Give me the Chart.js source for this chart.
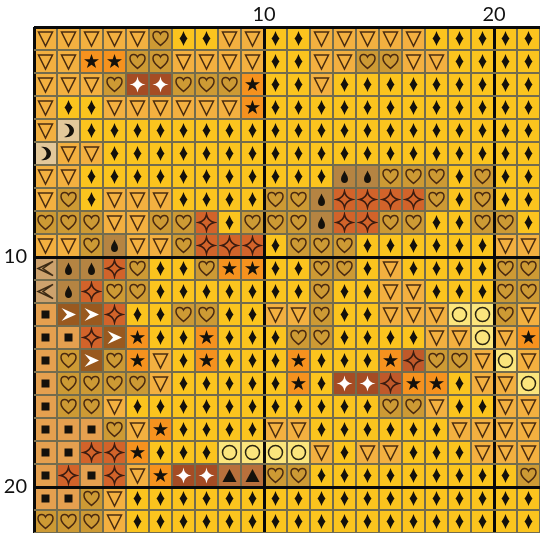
<!DOCTYPE html>
<html>
<head>
<meta charset="utf-8">
<style>
  html, body { margin: 0; padding: 0; background: #fff; }
  #wrap { width: 540px; height: 533px; }
  canvas { display: block; }
</style>
<script src="https://cdn.jsdelivr.net/npm/chart.js@4/dist/chart.umd.js"></script>
</head>
<body>
<div id="wrap"><canvas id="patternChart" width="540" height="533"></canvas></div>
<script>
// one letter per cell, top row first, split every 10 columns
const rows = [
  "vvvvvhddvv ddvvvvvddd dd",
  "vvsshhvvvv ddvvhhvvdd dd",
  "vvvhwwhhhs ddvddddddd dd",
  "vddvvvvvvs dddddddddd dd",
  "vmdddddddd dddddddddd dd",
  "mvvddddddd dddddddddd dd",
  "vvdddddddd dddoohhhdh dd",
  "vhdvvvdddd hhonnnnhdh dd",
  "hhhvvhhndh hhonnhhddh hd",
  "vvhovvhnnn dhhhdddddd vv",
  "loonhddhss ddhhdvdddd hh",
  "lonhhddddd ddhddvvddd hh",
  "qaanddhhdd vvhddvvvcc hv",
  "qqnasddsdd dhhddddvvc vs",
  "qhahsvdsdd dsdddsrhhv cv",
  "qhhhhvdddd dsdwwrssdv vc",
  "qhhvdddddd dddddhhvdd vv",
  "qqqhvsdddd vvddddddvv vv",
  "qqnnsdddcc ccvdvvdddv vv",
  "qnqnvswwtt hhdddddddd dh",
  "qqhvdddddd dddddddddd dd",
  "hhhvdddddd dddddddddd dd",
].map((r) => r.replace(/ /g, ""));

const columnCount = 22;
const axisLabels = [10, 20];

const cellColors = {
  d: "#fbc41e", v: "#f3b040", h: "#cd9a34", s: "#f6921e", w: "#a54c24",
  n: "#d2632a", r: "#c0592a", m: "#e3c89a", o: "#b58442", l: "#cda26d",
  q: "#e5a04f", a: "#99591f", c: "#fbe57c", t: "#b8703c",
};

const outlineStar = "M11.5 3.5Q12.8 10.2 19.5 11.5Q12.8 12.8 11.5 19.5Q10.2 12.8 3.5 11.5Q10.2 10.2 11.5 3.5Z";

// glyph outlines in a 23x23 cell
const glyphs = {
  d: { path: "M11.5 4C12.5 7 14 9.5 15.5 11.5C14 13.5 12.5 16 11.5 19C10.5 16 9 13.5 7.5 11.5C9 9.5 10.5 7 11.5 4Z", fill: "#14110c" },
  v: { path: "M4.5 5L18.5 5L11.5 19Z", stroke: "#4a2c10" },
  h: { path: "M11.5 18.5C8 15.5 4 13 4 8.5C4 5.5 6.2 4.5 7.8 4.5C9.5 4.5 10.8 5.5 11.5 7C12.2 5.5 13.5 4.5 15.2 4.5C16.8 4.5 19 5.5 19 8.5C19 13 15 15.5 11.5 18.5Z", stroke: "#4a2a10" },
  s: { path: "M11.5 4L13.3 9.2L19 9.2L14.4 12.6L16.1 18L11.5 14.8L6.9 18L8.6 12.6L4 9.2L9.7 9.2Z", fill: "#14110c" },
  w: { path: "M11.5 3.5Q12.3 10.7 19.5 11.5Q12.3 12.3 11.5 19.5Q10.7 12.3 3.5 11.5Q10.7 10.7 11.5 3.5Z", fill: "#ffffff" },
  n: { path: outlineStar, stroke: "#3c1c10" },
  r: { path: outlineStar, stroke: "#3c1c10" },
  m: { path: "M7 5C13 4 17 8 17 11.5C17 15.5 13 19 7 18C11 16.5 12.5 14 12.5 11.5C12.5 9 11 6.5 7 5Z", fill: "#14110c" },
  o: { path: "M11.5 5.5C12.5 8.5 15 11 15 14C15 16.5 13.5 18 11.5 18C9.5 18 8 16.5 8 14C8 11 10.5 8.5 11.5 5.5Z", fill: "#14110c" },
  l: { path: "M19 4.5L4 11.5L19 18.5L9 11.5Z", stroke: "#3c2a14" },
  q: { path: "M7.5 7.5H15.5V15.5H7.5Z", fill: "#14110c" },
  a: { path: "M4.5 5L19 11.5L4.5 18L10 11.5Z", fill: "#ffffff" },
  c: { path: "M18.5 11.5A7 7 0 1 1 4.5 11.5A7 7 0 1 1 18.5 11.5Z", stroke: "#2a2410" },
  t: { path: "M11.5 5L18.5 18L4.5 18Z", fill: "#14110c" },
};

function makeGlyph(def) {
  const c = document.createElement("canvas");
  c.width = 23;
  c.height = 23;
  const g = c.getContext("2d");
  const p = new Path2D(def.path);
  if (def.fill) {
    g.fillStyle = def.fill;
    g.fill(p);
  } else {
    g.strokeStyle = def.stroke;
    g.lineWidth = 1.5;
    g.stroke(p);
  }
  return c;
}

const glyphCanvases = {};
Object.keys(glyphs).forEach((k) => { glyphCanvases[k] = makeGlyph(glyphs[k]); });

const cells = [];
const points = [];
rows.forEach((row, r) => {
  for (let col = 0; col < columnCount; col++) {
    cells.push({ x: col + 0.5, y: [r, r + 1], code: row[col] });
    points.push({ x: col + 0.5, y: r + 0.5, code: row[col] });
  }
});

function tickText(value) {
  return axisLabels.includes(value) ? String(value) : "";
}

function isMajor(ctx) {
  return ctx.tick && ctx.tick.value % 10 === 0;
}

// no label overhang, the plot has to run to the window edge
function clearPadding(s) {
  s.paddingLeft = 0;
  s.paddingRight = 0;
  s.paddingTop = 0;
  s.paddingBottom = 0;
}

function axis(position, reverse, max, labelGap, fit) {
  return {
    type: "linear",
    position: position,
    reverse: reverse,
    offset: false,
    min: 0,
    max: max,
    afterFit: (s) => { fit(s); clearPadding(s); },
    border: { display: false },
    grid: {
      z: 1,
      offset: false,
      drawTicks: false,
      color: (ctx) => (isMajor(ctx) ? "#0a0a0a" : "#736c4e"),
      lineWidth: (ctx) => (isMajor(ctx) ? 3 : 2),
    },
    ticks: {
      stepSize: 1,
      autoSkip: false,
      maxRotation: 0,
      padding: labelGap,
      color: "#111",
      font: { family: "Lato", size: 20 },
      callback: tickText,
    },
  };
}

new Chart(document.getElementById("patternChart"), {
  type: "bar",
  data: {
    datasets: [
      {
        type: "scatter",
        order: 0,
        data: points,
        pointStyle: (ctx) => glyphCanvases[ctx.raw.code],
        pointRadius: 11,
      },
      {
        type: "bar",
        order: 1,
        data: cells,
        grouped: false,
        barPercentage: 1,
        categoryPercentage: 1,
        backgroundColor: (ctx) => cellColors[ctx.raw.code],
      },
    ],
  },
  options: {
    responsive: false,
    animation: false,
    layout: { padding: 0, autoPadding: false },
    plugins: { legend: { display: false }, tooltip: { enabled: false } },
    scales: {
      x: axis("top", false, columnCount, 0, (s) => { s.height = 27; }),
      y: axis("left", true, rows.length, 7, (s) => { s.width = 34; }),
    },
  },
});
</script>
</body>
</html>
